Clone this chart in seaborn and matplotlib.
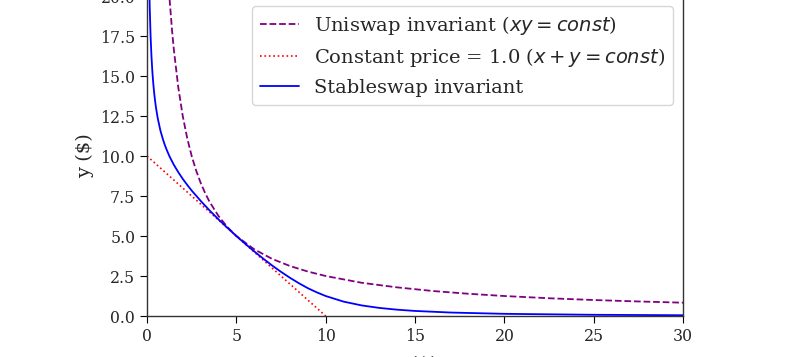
import matplotlib
matplotlib.use("Agg")
import matplotlib.pyplot as plt
import seaborn as sns

# curves
uni_x = [1.0, 1.1, 1.25, 1.4, 1.5, 1.75, 2.0, 2.25, 2.5, 2.75, 3.0, 3.25, 3.5, 4.0, 4.5, 5.0,
         6.0, 7.0, 8.0, 9.0, 10.0, 12.0, 14.0, 16.0, 18.0, 20.0, 22.5, 25.0, 27.5, 30.0]
uni_y = [25.0, 22.73, 20.0, 17.86, 16.67, 14.29, 12.5, 11.11, 10.0, 9.09, 8.33, 7.69, 7.14, 6.25,
         5.56, 5.0, 4.17, 3.57, 3.125, 2.78, 2.5, 2.08, 1.79, 1.5625, 1.39, 1.25, 1.11, 1.0,
         0.91, 0.833]

const_x = [0.0, 10.0]
const_y = [10.0, 0.0]

stable_x = [0.05, 0.08, 0.1, 0.12, 0.15, 0.2, 0.25, 0.3, 0.35, 0.4, 0.45, 0.5, 0.6, 0.75, 0.9,
            1.0, 1.1, 1.25, 1.5, 1.75, 2.0, 2.25, 2.5, 3.0, 3.5, 4.0, 4.5, 5.0, 5.5, 6.0, 6.5,
            7.0, 7.5, 8.0, 8.5, 9.0, 9.5, 10.0, 11.0, 12.0, 13.0, 14.0, 15.0, 17.0, 20.0,
            25.0, 30.0]
stable_y = [29.73, 24.57, 22.52, 21.02, 19.36, 17.49, 16.21, 15.27, 14.54, 13.95, 13.46, 13.04,
            12.36, 11.59, 11.01, 10.68, 10.39, 10.0, 9.45, 8.99, 8.57, 8.195, 7.84, 7.20, 6.60,
            6.04, 5.51, 5.0, 4.51, 4.04, 3.59, 3.16, 2.76, 2.39, 2.05, 1.74, 1.48, 1.25, 0.90,
            0.665, 0.506, 0.396, 0.317, 0.217, 0.137, 0.0766, 0.049]

labels = ["Uniswap invariant ($xy = const$)",
          "Constant price = 1.0 ($x + y = const$)",
          "Stableswap invariant"]

sns.set_style("ticks")
plt.rcParams['font.family'] = ['DejaVu Serif']
plt.rcParams['mathtext.fontset'] = 'dejavusans'

fig = plt.figure(figsize=(7.87, 3.57), dpi=100)
ax = fig.add_axes([0.1868, 0.1148, 0.6811, 0.8964])

sns.lineplot(x=uni_x, y=uni_y, ax=ax, color="purple", linestyle="--", lw=1.3, label=labels[0])
sns.lineplot(x=const_x, y=const_y, ax=ax, color="red", linestyle=":", lw=1.2, label=labels[1])
sns.lineplot(x=stable_x, y=stable_y, ax=ax, color="blue", linestyle="-", lw=1.3, label=labels[2])

ax.set_xlim(0, 30)
ax.set_ylim(0, 20)
ax.set_yticks([0, 2.5, 5, 7.5, 10, 12.5, 15, 17.5, 20])
ax.set_xticks([0, 5, 10, 15, 20, 25, 30])
ax.tick_params(labelsize=11.3, length=5, color="black")
for s in ax.spines.values():
    s.set_color("#333333")
    s.set_linewidth(1.0)
ax.set_xlabel("x ($)", fontsize=14, labelpad=8)
ax.set_ylabel("y ($)", fontsize=14)

ax.legend(loc="upper right", fontsize=14, frameon=True, handlelength=2.0)

fig.savefig("out.png", dpi=100)
